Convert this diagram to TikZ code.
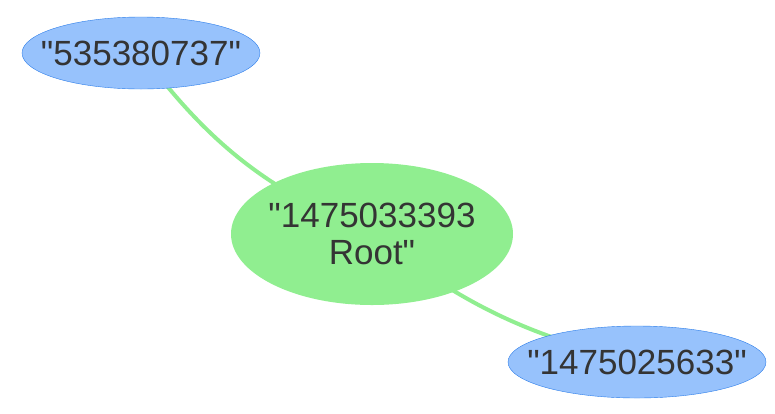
\documentclass[tikz,border=0pt]{standalone}
\usepackage{fontspec}
\setmainfont{Liberation Sans}[Ligatures=TeXOff]
\usetikzlibrary{shapes.geometric,backgrounds}
\definecolor{leafblue}{HTML}{97C2FC}
\definecolor{leafborder}{HTML}{2B7CE9}
\definecolor{rootgreen}{HTML}{90EE90}
\definecolor{labelgray}{HTML}{343434}

\begin{document}
\begin{tikzpicture}[x=1pt, y=-1pt,
    every node/.style={font=\fontsize{35}{37}\selectfont, text=labelgray},
    leaf/.style={ellipse, draw=leafborder, fill=leafblue, inner xsep=-60pt, inner ysep=0pt, minimum height=72pt},
    root/.style={ellipse, fill=rootgreen, inner xsep=-60pt, inner ysep=0pt, minimum width=282pt, minimum height=142pt, align=center},
    link/.style={draw=rootgreen, line width=4pt}]
    \useasboundingbox (0,0) rectangle (775,413);

    \node[root] (root) at (372,234) {"1475033393\\Root"};
    \node[leaf, minimum width=238pt] (left) at (141,53) {"535380737"};
    \node[leaf, minimum width=258pt] (right) at (637,362) {"1475025633"};

    \begin{scope}[on background layer]
        \draw[link] (left.center) to[bend right=15] (root.center);
        \draw[link] (root.center) to[bend right=12] (right.center);
    \end{scope}
\end{tikzpicture}
\end{document}
